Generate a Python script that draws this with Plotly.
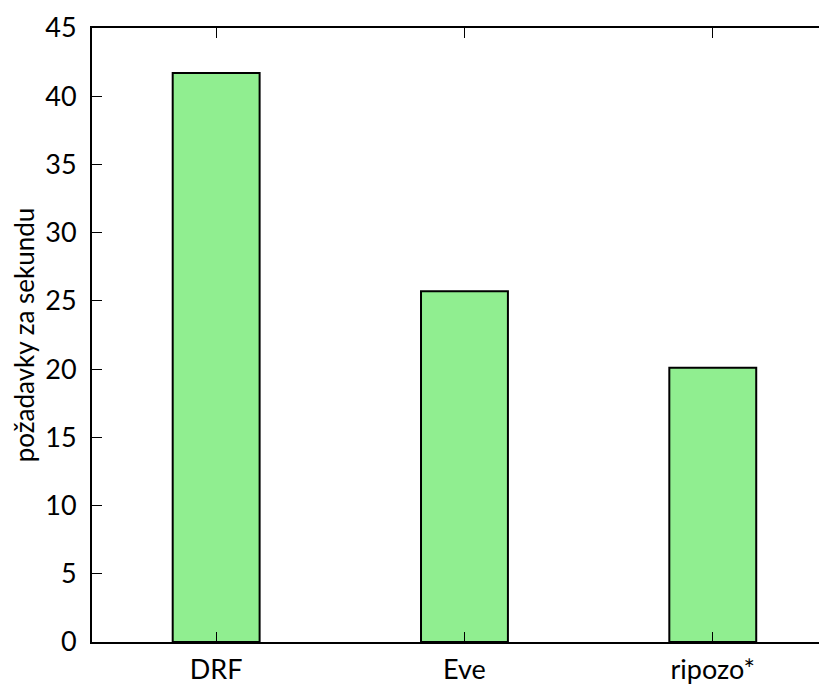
import plotly.graph_objects as go

categories = ["DRF", "Eve", "ripozo*"]
values = [41.7, 25.7, 20.1]
y_ticks = [0, 5, 10, 15, 20, 25, 30, 35, 40, 45]
y_title = "požadavky za sekundu"

FONT = "Lato"

fig = go.Figure()
fig.add_trace(go.Bar(
    x=list(range(len(categories))),
    y=values,
    width=0.35,
    marker=dict(color="#90EE90", line=dict(color="black", width=2)),
))

fig.update_layout(
    width=819, height=676,
    margin=dict(l=84, r=0, t=20, b=42),
    paper_bgcolor="white", plot_bgcolor="white",
    showlegend=False,
    font=dict(family=FONT, size=27, color="black"),
    xaxis=dict(
        range=[-0.5, 2.46], automargin=False,
        tickmode="array", tickvals=list(range(len(categories))), ticktext=categories,
        ticks="inside", ticklen=10, tickwidth=1, tickcolor="black",
        showline=True, linecolor="black", linewidth=2, mirror="ticks",
        showgrid=False, zeroline=False, ticklabelstandoff=3,
    ),
    yaxis=dict(
        range=[0, 45], automargin=True,
        tickmode="array", tickvals=y_ticks,
        ticks="inside", ticklen=10, tickwidth=1, tickcolor="black",
        showline=True, linecolor="black", linewidth=2, mirror=False,
        showgrid=False, zeroline=False, ticklabelstandoff=8,
        title=dict(text=y_title, standoff=18, font=dict(size=26)),
    ),
)

fig.write_html("out.html")
